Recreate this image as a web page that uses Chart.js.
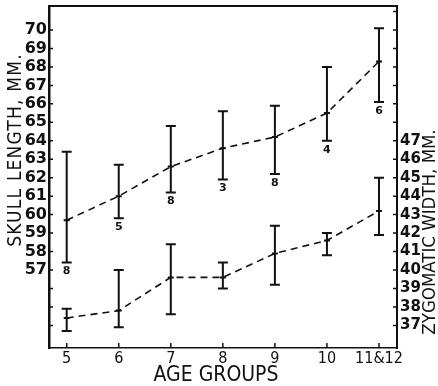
<!DOCTYPE html>
<html>
<head>
<meta charset="utf-8">
<script src="https://cdn.jsdelivr.net/npm/chart.js@4.4.1/dist/chart.umd.min.js"></script>
<style>
  html, body { margin: 0; padding: 0; background: #fff; }
</style>
</head>
<body>
<canvas id="myChart" width="438" height="386"></canvas>
<script>
// age groups (x), 11 stands for the "11&12" group
const ages = [5, 6, 7, 8, 9, 10, 11];
const ageLabels = ["5", "6", "7", "8", "9", "10", "11&12"];

// skull length, mm (left axis)
const skullMean = [59.7, 61.0, 62.6, 63.6, 64.2, 65.5, 68.3];
const skullLow = [57.4, 59.8, 61.2, 61.9, 62.2, 64.0, 66.1];
const skullHigh = [63.4, 62.7, 64.8, 65.6, 65.9, 68.0, 70.1];
const sampleSize = ["8", "5", "8", "3", "8", "4", "6"];

// zygomatic width, mm (right axis)
const zygMean = [37.4, 37.8, 39.6, 39.6, 40.9, 41.6, 43.2];
const zygLow = [36.7, 36.9, 37.6, 39.0, 39.2, 40.8, 41.9];
const zygHigh = [37.9, 40.0, 41.4, 40.4, 42.4, 42.0, 45.0];

const leftTicks = [54, 55, 56, 57, 58, 59, 60, 61, 62, 63, 64, 65, 66, 67, 68, 69, 70];
const leftLabelFrom = 57;
const rightTicks = [37, 38, 39, 40, 41, 42, 43, 44, 45, 46, 47, 48, 49, 50, 51, 52, 53, 54];
const rightLabelTo = 47;

const INK = "#111";
const COND = "'DejaVu Sans Condensed', 'Liberation Sans Narrow', sans-serif";

const decor = {
  id: "decor",
  afterDatasetsDraw(chart) {
    const { ctx, chartArea: a, scales } = chart;
    const x = scales.x;
    ctx.save();
    ctx.strokeStyle = INK;
    ctx.fillStyle = INK;
    ctx.setLineDash([]);

    function errorBars(mean, low, high, yScale, labels) {
      ages.forEach((age, i) => {
        const px = x.getPixelForValue(age);
        const top = yScale.getPixelForValue(high[i]);
        const bot = yScale.getPixelForValue(low[i]);
        const mid = yScale.getPixelForValue(mean[i]);
        ctx.lineWidth = 2;
        ctx.beginPath();
        ctx.moveTo(px, top); ctx.lineTo(px, bot);
        ctx.moveTo(px - 5, top); ctx.lineTo(px + 5, top);
        ctx.moveTo(px - 5, bot); ctx.lineTo(px + 5, bot);
        ctx.moveTo(px - 3, mid); ctx.lineTo(px + 3, mid);
        ctx.stroke();
        if (labels) {
          ctx.font = "bold 11px 'DejaVu Sans'";
          ctx.textAlign = "center";
          ctx.textBaseline = "middle";
          ctx.fillText(labels[i], px, bot + 9);
        }
      });
    }
    errorBars(skullMean, skullLow, skullHigh, scales.yL, sampleSize);
    errorBars(zygMean, zygLow, zygHigh, scales.yR, null);

    // top frame line
    ctx.lineWidth = 2;
    ctx.beginPath();
    ctx.moveTo(a.left, a.top);
    ctx.lineTo(a.right, a.top);
    ctx.stroke();

    // small inward tick marks
    ctx.lineWidth = 1.5;
    ctx.beginPath();
    scales.yL.ticks.forEach(t => {
      const py = scales.yL.getPixelForValue(t.value);
      ctx.moveTo(a.left, py); ctx.lineTo(a.left + 4, py);
    });
    scales.yR.ticks.forEach(t => {
      const py = scales.yR.getPixelForValue(t.value);
      ctx.moveTo(a.right - 4, py); ctx.lineTo(a.right, py);
    });
    x.ticks.forEach(t => {
      const px = x.getPixelForValue(t.value);
      ctx.moveTo(px, a.bottom); ctx.lineTo(px, a.bottom - 5);
    });
    ctx.stroke();

    // axis titles
    ctx.textAlign = "center";
    ctx.textBaseline = "middle";

    ctx.save();
    ctx.translate(16.5, 150);
    ctx.rotate(-Math.PI / 2);
    ctx.font = "19px " + COND;
    ctx.letterSpacing = "1.2px";
    ctx.fillText("SKULL LENGTH, MM.", 0, 0);
    ctx.restore();

    ctx.save();
    ctx.translate(430, 232);
    ctx.rotate(-Math.PI / 2);
    ctx.font = "18.5px " + COND;
    ctx.fillText("ZYGOMATIC WIDTH, MM.", 0, 0);
    ctx.restore();

    ctx.font = "21px " + COND;
    ctx.fillText("AGE GROUPS", 216, 376);

    ctx.restore();
  }
};

const ctx = document.getElementById("myChart").getContext("2d");
new Chart(ctx, {
  type: "line",
  data: {
    datasets: [
      {
        label: "Skull length",
        data: ages.map((a, i) => ({ x: a, y: skullMean[i] })),
        yAxisID: "yL",
        borderColor: INK,
        borderWidth: 1.6,
        borderDash: [7, 5],
        pointRadius: 0,
        tension: 0,
        fill: false,
      },
      {
        label: "Zygomatic width",
        data: ages.map((a, i) => ({ x: a, y: zygMean[i] })),
        yAxisID: "yR",
        borderColor: INK,
        borderWidth: 1.6,
        borderDash: [7, 5],
        pointRadius: 0,
        tension: 0,
        fill: false,
      },
    ],
  },
  options: {
    responsive: false,
    animation: false,
    layout: { padding: { top: 6, left: 0, right: 0, bottom: 0 } },
    plugins: {
      legend: { display: false },
      tooltip: { enabled: false },
    },
    scales: {
      x: {
        type: "linear",
        min: 4.66,
        max: 11.346,
        afterBuildTicks: (s) => { s.ticks = ages.map(v => ({ value: v })); },
        afterFit: (s) => { s.height = 38; s.paddingLeft = 0; s.paddingRight = 0; },
        grid: { display: true, drawOnChartArea: false, drawTicks: false },
        border: { display: true, color: INK, width: 1.5, dash: [2, 2] },
        ticks: {
          autoSkip: false,
          maxRotation: 0,
          padding: 1,
          color: INK,
          font: { family: COND, size: 16 },
          callback: (v, i) => ageLabels[i],
        },
      },
      yL: {
        type: "linear",
        position: "left",
        min: 52.775,
        max: 71.3,
        afterBuildTicks: (s) => { s.ticks = leftTicks.map(v => ({ value: v })); },
        afterFit: (s) => { s.width = 49; s.paddingTop = 0; s.paddingBottom = 0; },
        grid: { display: true, drawOnChartArea: false, drawTicks: false },
        border: { display: true, color: INK, width: 2.5 },
        ticks: {
          autoSkip: false,
          padding: 2,
          color: INK,
          font: { family: "'DejaVu Sans'", size: 16, weight: "bold" },
          callback: (v) => (v >= leftLabelFrom ? String(v) : ""),
        },
      },
      yR: {
        type: "linear",
        position: "right",
        min: 35.775,
        max: 54.3,
        afterBuildTicks: (s) => { s.ticks = rightTicks.map(v => ({ value: v })); },
        afterFit: (s) => { s.width = 41; s.paddingTop = 0; s.paddingBottom = 0; },
        grid: { display: true, drawOnChartArea: false, drawTicks: false },
        border: { display: true, color: INK, width: 2 },
        ticks: {
          autoSkip: false,
          padding: 3,
          color: INK,
          font: { family: "'DejaVu Sans'", size: 15, weight: "bold" },
          callback: (v) => (v <= rightLabelTo ? String(v) : ""),
        },
      },
    },
  },
  plugins: [decor],
});
</script>
</body>
</html>
